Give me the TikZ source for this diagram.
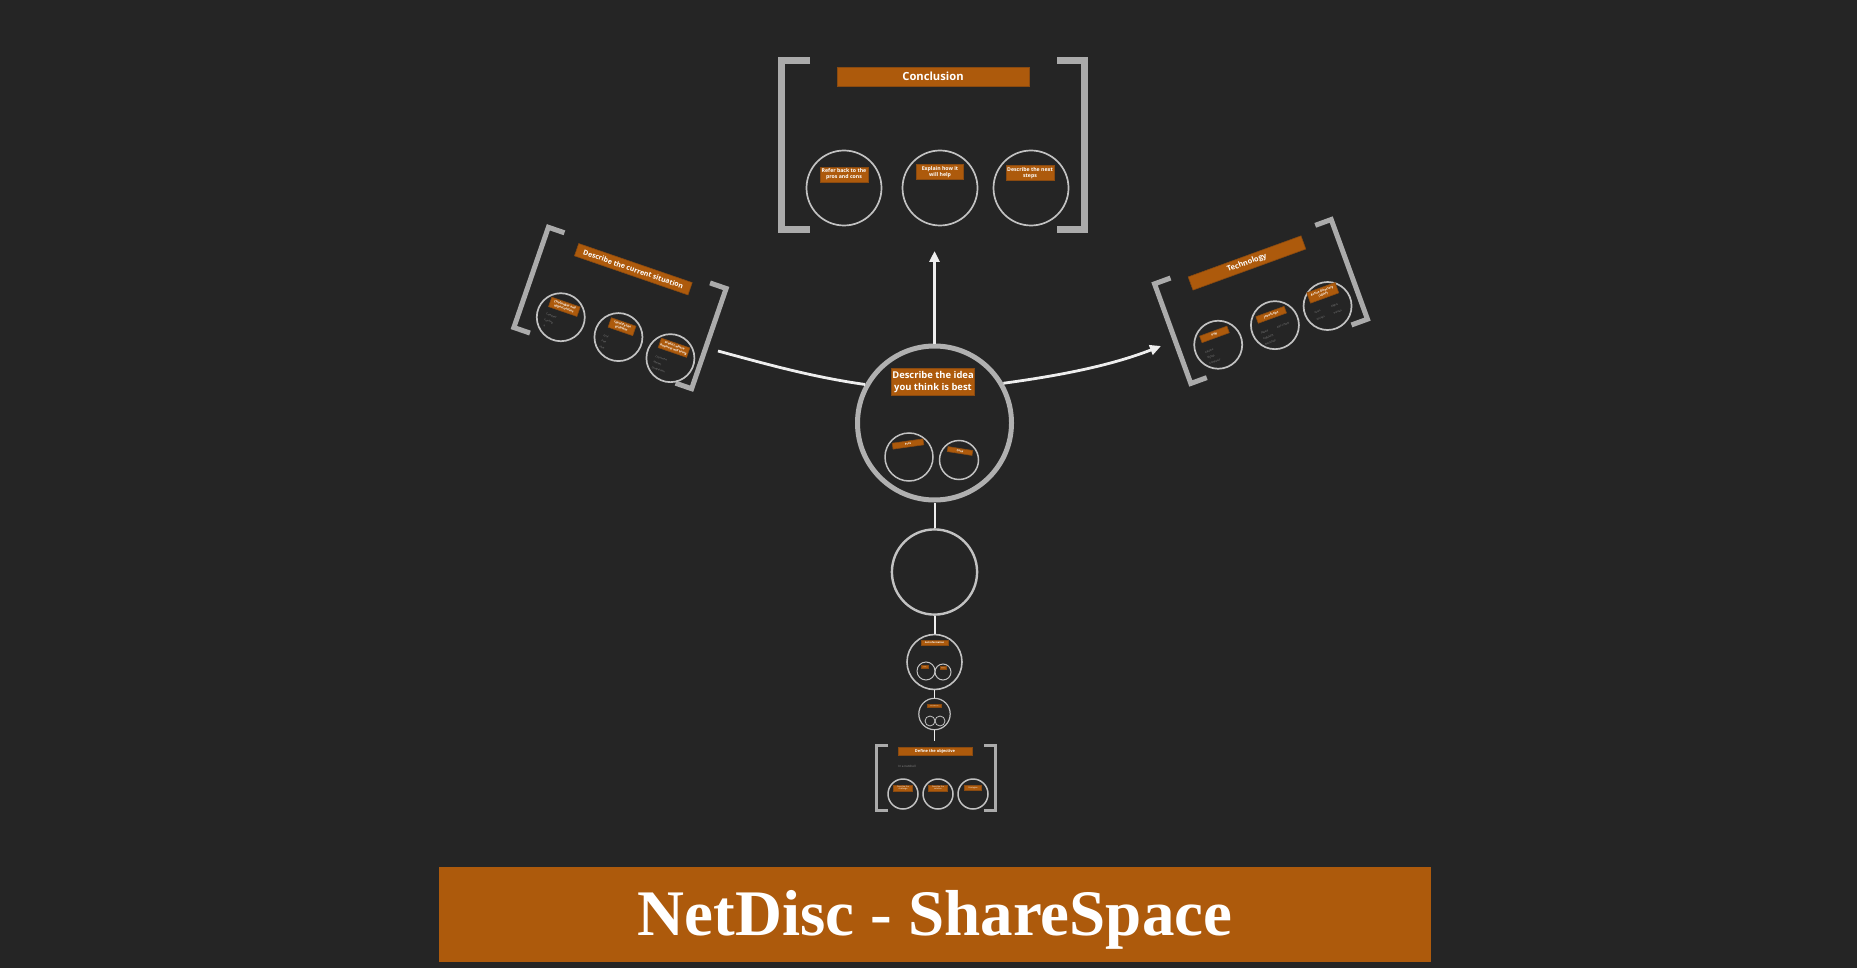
\documentclass[tikz,border=0pt]{standalone}
\usepackage{fontspec}
\setmainfont{Open Sans}
\newfontfamily\titlefont{Liberation Serif}
\usetikzlibrary{arrows.meta}
\definecolor{board}{HTML}{252525}
\definecolor{prezi}{HTML}{AD5A0C}
\definecolor{prezie}{HTML}{8A4A10}
\definecolor{ring}{HTML}{C2C2C2}
\definecolor{bigring}{HTML}{B0B0B0}
\definecolor{brk}{HTML}{ABABAB}
\definecolor{wire}{HTML}{EEEEEE}
\definecolor{note}{HTML}{8E8E8E}
\tikzset{
  ringnode/.style={circle, draw=ring, line width=0.85pt, inner sep=0pt, minimum size=#1},
  tag/.style={fill=prezi, draw=prezie, line width=0.3pt, text=white, inner sep=0.3pt, align=center},
  bracketline/.style={draw=brk, line width=#1, line join=miter},
  wireline/.style={draw=wire, line width=1.4pt},
  tipped/.style={-{Triangle[length=5.5pt,width=5pt]}},
  tinytext/.style={text=note, font=\fontsize{1.2}{1.4}\selectfont, inner sep=0pt, anchor=west},
  mini/.style={font=\bfseries\fontsize{1.5}{1.9}\selectfont},
}
\begin{document}
\begin{tikzpicture}[x=0.5pt,y=-0.5pt]
\fill[board] (0,0) rectangle (1857,968);
\useasboundingbox (0,0) rectangle (1857,968);

% ---------- Conclusion frame ----------
\draw[bracketline=3.5pt] (810,60.5) -- (781.5,60.5) -- (781.5,229.5) -- (810,229.5);
\draw[bracketline=3.5pt] (1057,60.5) -- (1084.5,60.5) -- (1084.5,229.5) -- (1057,229.5);
\node[tag, minimum width=96pt, minimum height=9.5pt, font=\bfseries\fontsize{5.6}{6}\selectfont] (concl) at (933,76.5) {Conclusion};
\node[ringnode=37.5pt] (cc1) at (844,188) {};
\node[ringnode=37.5pt] (cc2) at (940,188) {};
\node[ringnode=37.5pt] (cc3) at (1031,188) {};
\node[tag, minimum width=24pt, minimum height=7.5pt, font=\bfseries\fontsize{2.6}{3}\selectfont] (cc1l) at (844,174.5) {Refer back to the\\pros and cons};
\node[tag, minimum width=23.5pt, minimum height=7.5pt, font=\bfseries\fontsize{2.6}{3}\selectfont] (cc2l) at (940,172) {Explain how it\\will help};
\node[tag, minimum width=24pt, minimum height=7.5pt, font=\bfseries\fontsize{2.6}{3}\selectfont] (cc3l) at (1030,173) {Describe the next\\steps};

% ---------- Central idea ----------
\node[circle, draw=bigring, line width=2.5pt, minimum size=77pt, inner sep=0pt] (idea) at (934.5,423) {};
\node[tag, minimum width=40pt, minimum height=13.5pt, font=\bfseries\fontsize{4.7}{6.1}\selectfont] (ideal) at (933,382) {Describe the idea\\you think is best};
\node[ringnode=24pt, line width=0.75pt] (pros) at (909,457) {};
\node[tag, rotate=8, minimum width=15.5pt, minimum height=3pt, font=\bfseries\fontsize{1.4}{1.6}\selectfont] (prosl) at (908,444) {Pros};
\node[ringnode=19.5pt, line width=0.75pt] (cons) at (959,460) {};
\node[tag, rotate=-9, minimum width=12.5pt, minimum height=2.5pt, font=\bfseries\fontsize{1.4}{1.6}\selectfont] (consl) at (960,451) {Cons};

% ---------- Connectors from the idea ----------
\coordinate (conclTip) at (934.5,251);
\coordinate (sitEnd) at (718,351);
\coordinate (techTip) at (1161,346);
\draw[wireline, tipped] (idea.north) -- (conclTip);
\draw[wireline] (idea.151) .. controls (812,377) and (766,364) .. (sitEnd);
\draw[wireline, tipped] (idea.30) .. controls (1057,376) and (1110,366) .. (techTip);

% ---------- Left frame: current situation ----------
\begin{scope}[shift={(620,308)}, rotate=-19]
\draw[bracketline=2.5pt] (-77,-53) -- (-94,-53) -- (-94,53) -- (-77,53);
\draw[bracketline=2.5pt] (77,-53) -- (94,-53) -- (94,53) -- (77,53);
\node[tag, transform shape, minimum width=60pt, minimum height=6.5pt, font=\bfseries\fontsize{3.5}{4}\selectfont] (sit) at (0,-41) {Describe the current situation};
\node[ringnode=24pt] (s1) at (-53,28) {};
\node[ringnode=24pt] (s2) at (8,28) {};
\node[ringnode=24pt] (s3) at (64,31) {};
\node[tag, transform shape, minimum width=15pt, minimum height=5pt, mini] (s1l) at (-53,17) {Challenges and\\opportunities};
\node[tag, transform shape, minimum width=13pt, minimum height=5pt, mini] (s2l) at (8,17) {Identify the\\problem};
\node[tag, transform shape, minimum width=15pt, minimum height=5pt, mini] (s3l) at (64,20) {Predict where\\business will bring};
\node[tinytext, transform shape] (s1a) at (-68,30) {Company};
\node[tinytext, transform shape] (s1b) at (-68,36) {Funding};
\node[tinytext, transform shape] (s1c) at (-67,42) {X};
\node[tinytext, transform shape] (s2a) at (-7,31) {Goal};
\node[tinytext, transform shape] (s2b) at (-7,37) {Plan};
\node[tinytext, transform shape] (s2c) at (-7,43) {Idea};
\node[tinytext, transform shape] (s3a) at (49,34) {Customers};
\node[tinytext, transform shape] (s3b) at (49,40) {Market};
\node[tinytext, transform shape] (s3c) at (49,46) {Competition};
\end{scope}

% ---------- Right frame: technology ----------
\begin{scope}[shift={(1261,301.5)}, rotate=20]
\draw[bracketline=2.5pt] (-77,-53) -- (-94,-53) -- (-94,53) -- (-77,53);
\draw[bracketline=2.5pt] (77,-53) -- (94,-53) -- (94,53) -- (77,53);
\node[tag, transform shape, minimum width=60pt, minimum height=7pt, font=\bfseries\fontsize{3.7}{4}\selectfont] (tech) at (0,-41) {Technology};
\node[ringnode=24pt] (t1) at (-55,26) {};
\node[ringnode=24pt] (t2) at (5,27) {};
\node[ringnode=24pt] (t3) at (61,27) {};
\node[tag, transform shape, minimum width=14.5pt, minimum height=3.5pt, mini] (t1l) at (-55,15) {PHP};
\node[tag, transform shape, minimum width=15pt, minimum height=3.5pt, mini] (t2l) at (5,16) {JavaScript};
\node[tag, transform shape, minimum width=15pt, minimum height=5.5pt, mini] (t3l) at (61,13) {Active Directory\\(LDAP)};
\node[tinytext, transform shape] (t1a) at (-70,29) {Apache};
\node[tinytext, transform shape] (t1b) at (-70,35) {MySQL};
\node[tinytext, transform shape] (t1c) at (-70,41) {Composer};
\node[tinytext, transform shape] (t2a) at (-11,30) {jQuery};
\node[tinytext, transform shape] (t2b) at (-11,36) {AngularJS};
\node[tinytext, transform shape] (t2c) at (-11,42) {Bootstrap};
\node[tinytext, transform shape] (t2d) at (6,30) {Ajax / JSON};
\node[tinytext, transform shape] (t3a) at (46,29) {Users};
\node[tinytext, transform shape] (t3b) at (46,36) {Groups};
\node[tinytext, transform shape] (t3c) at (64,29) {Rights};
\node[tinytext, transform shape] (t3d) at (64,36) {Policies};
\end{scope}

% ---------- Lower chain ----------
\node[ringnode=42.6pt, line width=1.2pt] (blank) at (934.5,572) {};
\node[ringnode=27.5pt, line width=0.8pt] (info) at (934.5,662) {};
\node[tag, minimum width=13.5pt, minimum height=2.6pt, font=\bfseries\fontsize{1.2}{1.4}\selectfont] (infol) at (934.5,643) {Get information};
\node[ringnode=9pt, line width=0.5pt] (info1) at (926,671) {};
\node[ringnode=8pt, line width=0.5pt] (info2) at (943,672) {};
\node[tag, minimum width=3.5pt, minimum height=1.3pt, inner sep=0pt, font=\fontsize{0.6}{0.7}\selectfont] (info1l) at (925,667) {Data};
\node[tag, minimum width=3pt, minimum height=1.3pt, inner sep=0pt, font=\fontsize{0.6}{0.7}\selectfont] (info2l) at (943,668) {Users};
\node[ringnode=15.7pt, line width=0.6pt] (intro) at (934.5,714) {};
\node[tag, minimum width=7pt, minimum height=1.3pt, inner sep=0pt, font=\fontsize{0.7}{0.8}\selectfont] (introl) at (934.5,706) {Introduction};
\node[ringnode=5pt, line width=0.4pt] (intro1) at (930,721) {};
\node[ringnode=5pt, line width=0.4pt] (intro2) at (940,721) {};
\coordinate (objTop) at (934.5,741);
\draw[draw=wire, line width=1pt] (idea.south) -- (blank.north);
\draw[draw=wire, line width=1pt] (blank.south) -- (info.north);
\draw[draw=wire, line width=0.8pt] (info.south) -- (intro.north);
\draw[draw=wire, line width=0.7pt] (intro.south) -- (objTop);

% ---------- Bottom frame: objective ----------
\draw[bracketline=1.5pt] (888,745) -- (876.5,745) -- (876.5,810) -- (888,810);
\draw[bracketline=1.5pt] (984,745) -- (995.5,745) -- (995.5,810) -- (984,810);
\node[tag, minimum width=37pt, minimum height=4pt, font=\bfseries\fontsize{2}{2.2}\selectfont] (obj) at (935,751) {Define the objective};
\node[tinytext, font=\fontsize{1.5}{1.8}\selectfont] (objn) at (898,766) {In a nutshell};
\node[ringnode=15pt, line width=0.75pt] (o1) at (903,794) {};
\node[ringnode=15pt, line width=0.75pt] (o2) at (938,794) {};
\node[ringnode=15pt, line width=0.75pt] (o3) at (973,794) {};
\node[tag, minimum width=9.5pt, minimum height=3pt, inner sep=0.2pt, font=\fontsize{1}{1.2}\selectfont] (o1l) at (903,788) {Describe the\\challenge};
\node[tag, minimum width=9.5pt, minimum height=3pt, inner sep=0.2pt, font=\fontsize{1}{1.2}\selectfont] (o2l) at (938,788) {Describe the\\solution};
\node[tag, minimum width=8.5pt, minimum height=2.5pt, inner sep=0.2pt, font=\fontsize{1}{1.2}\selectfont] (o3l) at (973,788) {Strategies};

% ---------- Title bar ----------
\node[fill=prezi, minimum width=496pt, minimum height=47.5pt, inner sep=0pt] (titlebar) at (935,914.5) {};
\node[text=white, inner sep=0pt, font=\titlefont\bfseries\fontsize{32.5}{36}\selectfont] (title) at (935,920) {NetDisc - ShareSpace};
\end{tikzpicture}
\end{document}
